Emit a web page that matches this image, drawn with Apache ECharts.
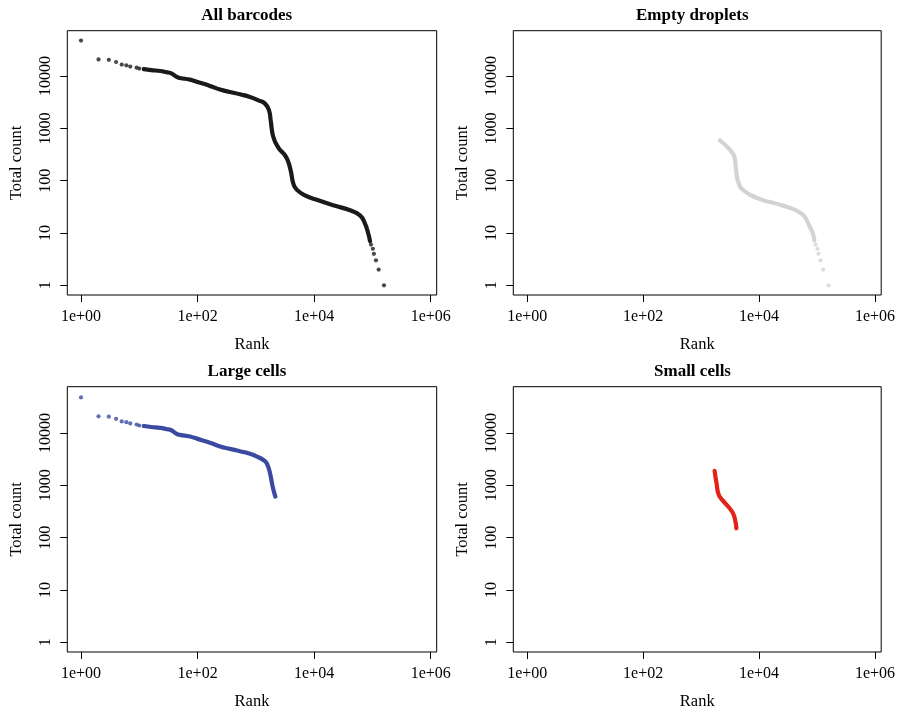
<!DOCTYPE html>
<html><head><meta charset="utf-8">
<script src="https://cdn.jsdelivr.net/npm/echarts@6/dist/echarts.min.js"></script>
<style>html,body{margin:0;padding:0;background:#fff}#c{width:898px;height:712px}</style>
</head><body><div id="c"></div>
<script>
// ---- tick labels ----
const panelTitles = ['All barcodes', 'Empty droplets', 'Large cells', 'Small cells'];
const xTickValues = [1, 100, 10000, 1000000];
const xTickLabels = ['1e+00', '1e+02', '1e+04', '1e+06'];
const yTickValues = [1, 10, 100, 1000, 10000];
const yTickLabels = ['1', '10', '100', '1000', '10000'];

// ---- All barcodes ----
const allDotRank  = [1, 2, 3, 4, 5, 6, 7, 9, 10, 12, 94600, 102000, 106000, 115000, 128000, 158000];
const allDotCount = [47700, 20800, 20500, 18600, 16600, 16100, 15200, 14500, 13900, 13600, 6, 5, 4, 3, 2, 1];
const allLineRank  = [12, 16, 23, 30, 34, 44, 50, 74, 100, 163, 243, 360, 535, 794, 1105, 1436, 1682, 1800, 1995, 2430, 3160, 3610, 4010, 4400, 5020, 6970, 11800, 21300, 41300, 61300, 74600, 85100, 91000];
const allLineCount = [13600, 13000, 12500, 11800, 11500, 9620, 9200, 8570, 7710, 6500, 5520, 4970, 4490, 3990, 3440, 2980, 2220, 1400, 685, 430, 306, 228, 147, 88, 67.6, 52.6, 42.2, 33.9, 27.2, 21.8, 15.1, 9.7, 7.0];

// ---- Empty droplets ----
const emptyDotRank  = [94600, 102000, 106000, 115000, 128000, 158000];
const emptyDotCount = [6, 5, 4, 3, 2, 1];
const emptyLineRank  = [2110, 3010, 3770, 4020, 4470, 5440, 9840, 24700, 54400, 71000, 85100, 90000];
const emptyLineCount = [592, 411, 284, 158, 88, 65.5, 45.5, 33.9, 23.5, 15.1, 9.7, 7.2];

// ---- Large cells ----
const largeDotRank  = [1, 2, 3, 4, 5, 6, 7, 9, 10, 12];
const largeDotCount = [47700, 20800, 20500, 18600, 16600, 16100, 15200, 14500, 13900, 13600];
const largeLineRank  = [12, 16, 23, 30, 34, 44, 50, 74, 100, 163, 243, 360, 535, 794, 1105, 1343, 1536, 1750, 1945, 2160];
const largeLineCount = [13600, 13000, 12500, 11800, 11500, 9620, 9200, 8570, 7710, 6500, 5520, 4970, 4490, 3990, 3440, 3050, 2640, 1700, 940, 608];

// ---- Small cells ----
const smallDotRank  = [];
const smallDotCount = [];
const smallLineRank  = [1710, 1850, 2025, 2470, 3430, 3810, 4070];
const smallLineCount = [1885, 1090, 653, 488, 314, 235, 151];

const panelColors = ['#1a1a1a', '#d3d3d3', '#3a4aa0', '#e2231a'];

const zip = (a, b) => a.map((v, i) => [v, b[i]]);
const panels = [
  { dots: zip(allDotRank, allDotCount), line: zip(allLineRank, allLineCount) },
  { dots: zip(emptyDotRank, emptyDotCount), line: zip(emptyLineRank, emptyLineCount) },
  { dots: zip(largeDotRank, largeDotCount), line: zip(largeLineRank, largeLineCount) },
  { dots: zip(smallDotRank, smallDotCount), line: zip(smallLineRank, smallLineCount) }
];

const FONT = 'Liberation Serif';
const grids = [
  { left: 67.3, top: 30.7, width: 369.4, height: 264.3, xr: [-0.235, 6.103], yr: [-0.185, 4.868], tx: 246.7, ty: 16 },
  { left: 513.3, top: 30.7, width: 370, height: 264.3, xr: [-0.24, 6.108], yr: [-0.185, 4.868], tx: 692.3, ty: 16 },
  { left: 67.3, top: 386.7, width: 369.4, height: 265.3, xr: [-0.235, 6.103], yr: [-0.185, 4.884], tx: 247, ty: 372 },
  { left: 513.3, top: 386.7, width: 370, height: 265.3, xr: [-0.24, 6.108], yr: [-0.185, 4.884], tx: 692.5, ty: 372 }
];

function labelFor(v, vals, labs) {
  const e = Math.round(Math.log10(v));
  for (let i = 0; i < vals.length; i++) if (Math.round(Math.log10(vals[i])) === e) return labs[i];
  return '';
}

const option = {
  animation: false,
  backgroundColor: '#fff',
  grid: grids.map(g => ({ left: g.left, top: g.top, width: g.width, height: g.height, show: true, borderColor: '#000', borderWidth: 1, backgroundColor: 'transparent' })),
  xAxis: grids.map((g, i) => ({
    type: 'log', logBase: 10, gridIndex: i,
    min: Math.pow(10, g.xr[0]), max: Math.pow(10, g.xr[1]),
    name: 'Rank', nameLocation: 'middle', nameGap: 41,
    nameTextStyle: { fontFamily: FONT, fontSize: 16.5, color: '#000' },
    axisLine: { show: false }, splitLine: { show: false }, minorTick: { show: false },
    axisTick: { show: true, length: 7, lineStyle: { color: '#000', width: 1 }, customValues: xTickValues },
    axisLabel: { customValues: xTickValues, formatter: v => labelFor(v, xTickValues, xTickLabels), fontFamily: FONT, fontSize: 16, color: '#000', margin: 14 }
  })),
  yAxis: grids.map((g, i) => ({
    type: 'log', logBase: 10, gridIndex: i,
    min: Math.pow(10, g.yr[0]), max: Math.pow(10, g.yr[1]),
    name: 'Total count', nameLocation: 'middle', nameGap: 42,
    nameTextStyle: { fontFamily: FONT, fontSize: 16.5, color: '#000' },
    axisLine: { show: false }, splitLine: { show: false }, minorTick: { show: false },
    axisTick: { show: true, length: 7, lineStyle: { color: '#000', width: 1 }, customValues: yTickValues },
    axisLabel: { customValues: yTickValues, rotate: 90, formatter: v => labelFor(v, yTickValues, yTickLabels), fontFamily: FONT, fontSize: 16, color: '#000', margin: 14 }
  })),
  graphic: grids.map((g, i) => ({
    type: 'text', x: g.tx, y: g.ty,
    style: { text: panelTitles[i], fontFamily: FONT, fontWeight: 'bold', fontSize: 17, fill: '#000', align: 'center', verticalAlign: 'middle' }
  })),
  series: []
};

panels.forEach((p, i) => {
  option.series.push({
    type: 'line', xAxisIndex: i, yAxisIndex: i, data: p.line,
    showSymbol: false, smooth: 0.5,
    lineStyle: { color: panelColors[i], width: 4.2, cap: 'round', join: 'round' },
    silent: true
  });
  option.series.push({
    type: 'scatter', xAxisIndex: i, yAxisIndex: i, data: p.dots,
    symbol: 'circle', symbolSize: 4.2,
    itemStyle: { color: panelColors[i] }, silent: true
  });
});

const chart = echarts.init(document.getElementById('c'), null, { renderer: 'canvas' });
chart.setOption(option);
</script></body></html>
